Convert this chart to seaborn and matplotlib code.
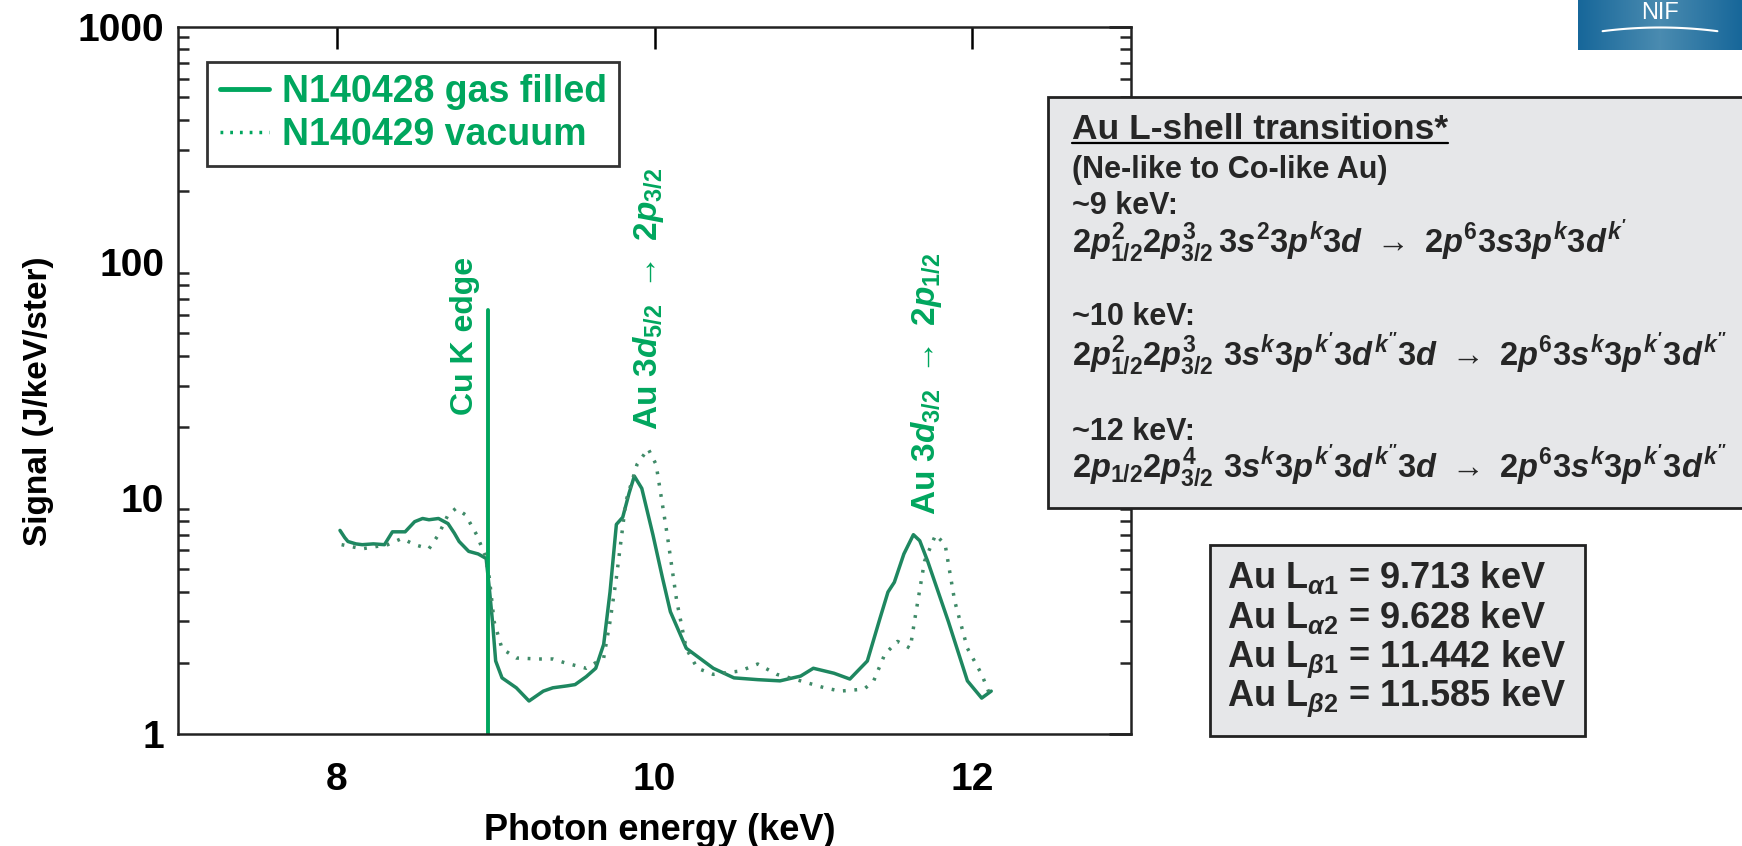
import numpy as np
import pandas as pd
import seaborn as sns
import matplotlib
matplotlib.use("Agg")
import matplotlib.pyplot as plt
from matplotlib.patches import Rectangle
from matplotlib.lines import Line2D

# ---------------- data ----------------
gas_energy = [8.02, 8.05, 8.07, 8.12, 8.16, 8.23, 8.30, 8.35, 8.43, 8.49, 8.54, 8.58, 8.64, 8.70,
              8.74, 8.77, 8.83, 8.89, 8.94, 8.96, 8.98, 9.00, 9.04, 9.13, 9.21, 9.30, 9.36, 9.45,
              9.50, 9.57, 9.63, 9.68, 9.72, 9.76, 9.80, 9.84, 9.873, 9.92, 9.99, 10.05, 10.10,
              10.20, 10.37, 10.50, 10.65, 10.79, 10.92, 11.00, 11.13, 11.23, 11.34, 11.42, 11.47,
              11.51, 11.57, 11.63, 11.67, 11.72, 11.85, 11.97, 12.06, 12.12]
gas_signal = [7.3, 6.8, 6.55, 6.4, 6.35, 6.4, 6.35, 7.2, 7.2, 7.95, 8.2, 8.1, 8.2, 7.8,
              7.1, 6.55, 5.95, 5.8, 5.55, 4.15, 3.0, 2.04, 1.73, 1.57, 1.38, 1.52, 1.57, 1.6,
              1.62, 1.75, 1.9, 2.4, 4.0, 7.74, 8.3, 10.5, 12.4, 11.0, 7.0, 4.6, 3.3,
              2.31, 1.9, 1.73, 1.7, 1.68, 1.76, 1.9, 1.81, 1.71, 2.04, 3.1, 4.0,
              4.4, 5.8, 7.0, 6.6, 5.4, 3.0, 1.68, 1.42, 1.52]

vac_energy = [8.03, 8.16, 8.32, 8.41, 8.49, 8.58, 8.64, 8.70, 8.75, 8.81, 8.88, 8.93, 8.96, 8.99,
              9.04, 9.13, 9.27, 9.36, 9.44, 9.57, 9.68, 9.72, 9.76, 9.82, 9.89, 9.96, 10.01,
              10.08, 10.14, 10.20, 10.27, 10.37, 10.54, 10.65, 10.77, 10.92, 11.07, 11.17, 11.32,
              11.38, 11.45, 11.53, 11.61, 11.64, 11.70, 11.77, 11.83, 11.89, 11.97, 12.06, 12.12]
vac_signal = [6.35, 6.1, 6.35, 6.75, 6.35, 6.1, 7.0, 8.5, 9.05, 8.5, 7.0, 5.8, 4.6, 3.0,
              2.3, 2.1, 2.08, 2.08, 2.0, 1.9, 2.1, 3.0, 4.6, 9.7, 13.9, 16.2, 13.9,
              7.0, 3.66, 2.3, 1.9, 1.79, 1.85, 1.98, 1.79, 1.68, 1.57, 1.52, 1.55,
              1.68, 2.18, 2.47, 2.31, 3.1, 5.4, 7.0, 6.35, 3.66, 2.31, 1.79, 1.42]

series_names = ["N140428 gas filled", "N140429 vacuum"]
cu_k_edge_energy = 8.95
cu_k_edge_top = 63.0

y_ticks = [1, 10, 100, 1000]
y_tick_labels = ["1", "10", "100", "1000"]
x_ticks = [8, 10, 12]
x_tick_labels = ["8", "10", "12"]

box_title = "Au L-shell transitions*"
box_lines = [
    r"(Ne-like to Co-like Au)",
    r"~9 keV:",
    r"$2p^{2}_{1/2}2p^{3}_{3/2}\,3s^{2}3p^{k}3d\ \rightarrow\ 2p^{6}3s3p^{k}3d^{k'}$",
    r"~10 keV:",
    r"$2p^{2}_{1/2}2p^{3}_{3/2}\ 3s^{k}3p^{k'}3d^{k''}3d\ \rightarrow\ 2p^{6}3s^{k}3p^{k'}3d^{k''}$",
    r"~12 keV:",
    r"$2p_{1/2}2p^{4}_{3/2}\ 3s^{k}3p^{k'}3d^{k''}3d\ \rightarrow\ 2p^{6}3s^{k}3p^{k'}3d^{k''}$",
]
line_names = [r"\alpha1", r"\alpha2", r"\beta1", r"\beta2"]
line_energies = ["9.713", "9.628", "11.442", "11.585"]

# ---------------- style ----------------
sns.set_theme(style="white")
plt.rcParams["font.family"] = ["Liberation Sans", "DejaVu Sans"]
plt.rcParams["font.weight"] = "bold"
plt.rcParams["mathtext.fontset"] = "custom"
plt.rcParams["mathtext.rm"] = "Liberation Sans:bold"
plt.rcParams["mathtext.bf"] = "Liberation Sans:bold"
plt.rcParams["mathtext.sf"] = "Liberation Sans:bold"
plt.rcParams["mathtext.it"] = "Liberation Sans:bold:italic"

GREEN = "#00A65E"
CURVE = "#1E8760"
DOT = "#3F8A68"

DPI = 100
W, H = 1742, 846
fig = plt.figure(figsize=(W / DPI, H / DPI), dpi=DPI)
fig.patch.set_facecolor("white")

ax_l, ax_r, ax_t, ax_b = 178, 1131, 26.5, 734
ax = fig.add_axes([ax_l / W, 1 - ax_b / H, (ax_r - ax_l) / W, (ax_b - ax_t) / H])

df = pd.concat([
    pd.DataFrame({"energy": gas_energy, "signal": gas_signal, "shot": series_names[0]}),
    pd.DataFrame({"energy": vac_energy, "signal": vac_signal, "shot": series_names[1]}),
])
sns.lineplot(data=df[df.shot == series_names[0]], x="energy", y="signal", ax=ax,
             color=CURVE, lw=2.5, sort=False, estimator=None, legend=False)
sns.lineplot(data=df[df.shot == series_names[1]], x="energy", y="signal", ax=ax,
             color=DOT, lw=2.5, sort=False, estimator=None, legend=False,
             linestyle=(0, (0.8, 2.5)))
ax.plot([cu_k_edge_energy, cu_k_edge_energy], [1, cu_k_edge_top], color=GREEN, lw=2.8)

ax.set_yscale("log")
ax.set_xlim(7, 13)
ax.set_ylim(1, 1000)
ax.set_xticks(x_ticks)
ax.set_xticklabels(x_tick_labels)
ax.set_yticks(y_ticks)
ax.set_yticklabels(y_tick_labels)
ax.yaxis.set_minor_locator(matplotlib.ticker.LogLocator(base=10, subs=np.arange(2, 10)))
ax.yaxis.set_minor_formatter(matplotlib.ticker.NullFormatter())
ax.xaxis.set_minor_locator(matplotlib.ticker.NullLocator())
ax.tick_params(axis="both", which="major", direction="in", length=16, width=1.8,
               top=True, right=True, labelsize=28, colors="black")
ax.tick_params(axis="x", which="major", pad=20)
ax.tick_params(axis="y", which="major", pad=10)
ax.tick_params(axis="y", which="minor", direction="in", length=8, width=1.8, left=True, right=True)
for lab in ax.get_xticklabels() + ax.get_yticklabels():
    lab.set_fontweight("bold")
for sp in ax.spines.values():
    sp.set_linewidth(1.8)
    sp.set_color("#222222")

ax.set_xlabel("Photon energy (keV)", fontsize=26, fontweight="bold", color="black")
ax.set_ylabel("Signal (J/keV/ster)", fontsize=24, fontweight="bold", color="black")
ax.xaxis.set_label_coords(0.505, -0.112)
ax.yaxis.set_label_coords(-0.13, 0.47)

# legend
handles = [Line2D([], [], color=GREEN, lw=3.5),
           Line2D([], [], color=GREEN, lw=2.5, linestyle=(0, (0.8, 2.0)))]
leg = ax.legend(handles, series_names, loc="upper left",
                bbox_to_anchor=((207 - ax_l) / (ax_r - ax_l), (ax_b - 61.5) / (ax_b - ax_t)),
                fontsize=27, frameon=True, fancybox=False, borderpad=0.34,
                handlelength=1.3, handletextpad=0.35, labelspacing=0.19, borderaxespad=0)
leg.get_frame().set_edgecolor("black")
leg.get_frame().set_linewidth(2.0)
for t in leg.get_texts():
    t.set_color(GREEN)
    t.set_fontweight("bold")

# rotated annotations
ax.text(8.81, 22.6, "Cu K edge", rotation=90, ha="center", va="bottom",
        color=GREEN, fontsize=23, fontweight="bold")
ax.text(9.96, 19.4, r"Au 3$d_{5/2}$ $\rightarrow$ 2$p_{3/2}$", rotation=90, ha="center",
        va="bottom", color=GREEN, fontsize=24, fontweight="bold")
ax.text(11.71, 8.47, r"Au 3$d_{3/2}$ $\rightarrow$ 2$p_{1/2}$", rotation=90, ha="center",
        va="bottom", color=GREEN, fontsize=24, fontweight="bold")

# transitions box
fig.patches.append(Rectangle((1048 / W, 1 - 508 / H), 0.45, (508 - 97) / H,
                             transform=fig.transFigure, facecolor="#E6E7E9",
                             edgecolor="#222222", lw=2.0, zorder=5))
tx = 1072 / W
title = fig.text(tx, 1 - 139 / H, box_title, fontsize=25.5, fontweight="bold",
                 ha="left", va="baseline", zorder=6)
baselines = [178, 214, 252, 325, 365, 440, 477]
sizes = [22, 22, 23.5, 22, 23.5, 22, 23.5]
for txt, b, s in zip(box_lines, baselines, sizes):
    fig.text(tx, 1 - b / H, txt, fontsize=s, fontweight="bold", ha="left", va="baseline",
             zorder=6)

# energies box
fig.patches.append(Rectangle((1210 / W, 1 - 736 / H), 375 / W, 191 / H,
                             transform=fig.transFigure, facecolor="#E6E7E9",
                             edgecolor="#222222", lw=2.0, zorder=5))
for b, nm, en in zip([588, 628, 668, 707], line_names, line_energies):
    fig.text(1227 / W, 1 - b / H, r"Au L$_{%s}$ = %s keV" % (nm, en), fontsize=26,
             fontweight="bold", ha="left", va="baseline", zorder=6)

# logo
lax = fig.add_axes([1578 / W, 1 - 50 / H, 164 / W, 50 / H])
grad = np.vstack([np.concatenate([np.linspace(0, 1, 50), np.linspace(1, 0, 50)])] * 10)
lax.imshow(grad, aspect="auto", cmap=matplotlib.colors.LinearSegmentedColormap.from_list(
    "nif", ["#17679A", "#4A8BB0"]), extent=[0, 1, 0, 1])
lax.text(0.5, 0.74, "NIF", color="white", fontsize=17, ha="center", va="center",
         fontweight="normal")
arc_x = np.linspace(0.15, 0.85, 50)
lax.plot(arc_x, 0.45 - 0.6 * (arc_x - 0.5) ** 2, color="white", lw=1.5)
lax.set_xlim(0, 1)
lax.set_ylim(0, 1)
lax.axis("off")

# underline title
fig.canvas.draw()
bb = title.get_window_extent(fig.canvas.get_renderer())
uy = 1 - 142.7 / H
fig.add_artist(Line2D([bb.x0 / W, bb.x1 / W], [uy, uy],
                      transform=fig.transFigure, color="black", lw=1.6, zorder=7))

fig.savefig("out.png", dpi=DPI, facecolor="white")
